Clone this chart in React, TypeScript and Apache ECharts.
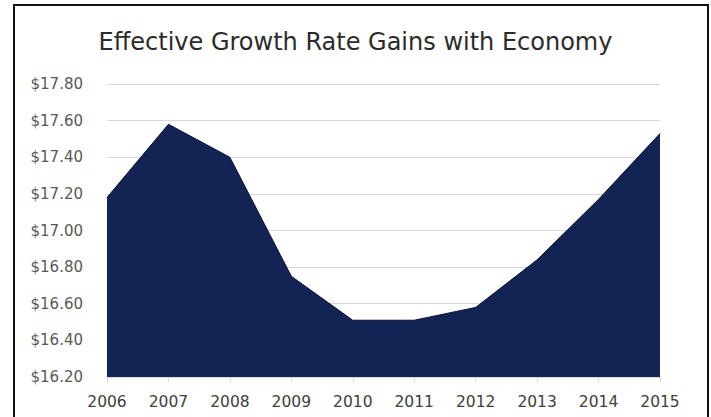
import React, { useEffect, useRef } from "react";
import * as echarts from "echarts";

const title = "Effective Growth Rate Gains with Economy";
const years = ["2006", "2007", "2008", "2009", "2010", "2011", "2012", "2013", "2014", "2015"];
const values = [17.18, 17.58, 17.4, 16.75, 16.51, 16.51, 16.58, 16.84, 17.17, 17.53];
const yMin = 16.2;
const yMax = 17.8;
const yStep = 0.2;

export default function App() {
  const ref = useRef<HTMLDivElement>(null);
  useEffect(() => {
    if (!ref.current) return;
    const chart = echarts.init(ref.current, null, { renderer: "svg" });
    chart.setOption({
      animation: false,
      backgroundColor: "#ffffff",
      title: {
        text: title,
        left: "center",
        top: 25,
        textStyle: {
          fontFamily: "DejaVu Sans",
          fontSize: 24,
          fontWeight: "normal",
          color: "#2b2b2b",
        },
      },
      graphic: [
        {
          type: "rect",
          shape: { x: 14, y: 5, width: 694, height: 430 },
          style: { fill: "none", stroke: "#111111", lineWidth: 2 },
          silent: true,
        },
      ],
      grid: { left: 107, right: 51, top: 84, bottom: 40 },
      xAxis: {
        type: "category",
        data: years,
        boundaryGap: false,
        axisLine: { show: true, lineStyle: { color: "#d9d9d9" } },
        axisTick: { show: true, length: 5, lineStyle: { color: "#d9d9d9" } },
        axisLabel: {
          margin: 17,
          fontFamily: "DejaVu Sans",
          fontSize: 15.5,
          color: "#404040",
        },
        splitLine: { show: false },
      },
      yAxis: {
        type: "value",
        min: yMin,
        max: yMax,
        interval: yStep,
        axisLine: { show: false },
        axisTick: { show: false },
        axisLabel: {
          margin: 24,
          fontFamily: "DejaVu Sans",
          fontSize: 15,
          color: "#595959",
          formatter: (v: number) => "$" + v.toFixed(2),
        },
        splitLine: { show: true, lineStyle: { color: "#d9d9d9", width: 1 } },
      },
      series: [
        {
          type: "line",
          data: values,
          symbol: "none",
          lineStyle: { color: "#0b1330", width: 1 },
          areaStyle: { color: "#132353", opacity: 1, origin: "start" },
        },
      ],
    });
    return () => chart.dispose();
  }, []);
  return (
    <div
      ref={ref}
      style={{ position: "fixed", left: 0, top: 0, width: 711, height: 417 }}
    />
  );
}
